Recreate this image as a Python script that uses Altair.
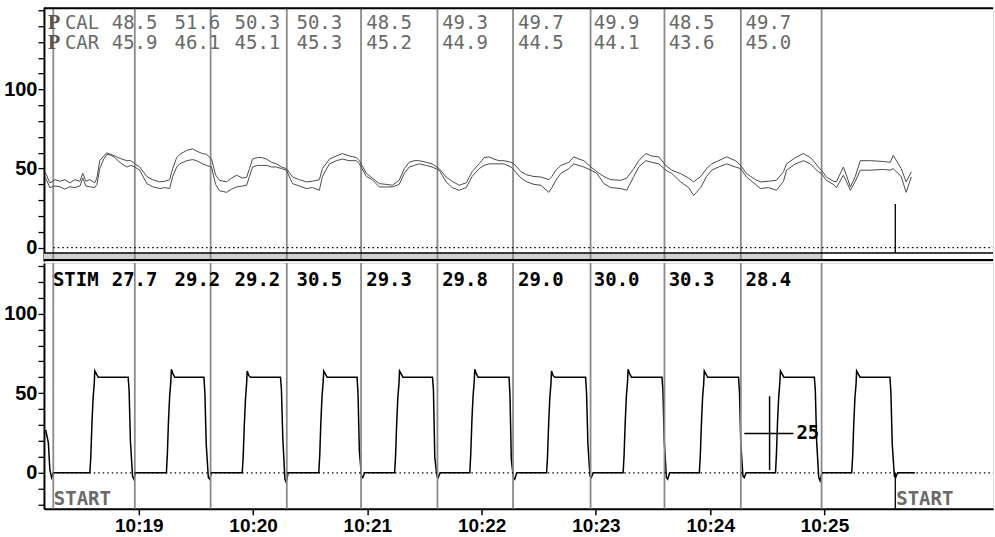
import altair as alt
import pandas as pd

# ---------------- data (time in seconds after 10:18:00) ----------------
pres_t = [10.7, 13.3, 16.0, 18.6, 21.2, 23.8, 26.4, 29.1, 30.6, 32.2,
          34.3, 36.9, 38.0, 39.5, 41.6, 43.2, 45.3, 47.4, 49.0, 51.1,
          53.7, 55.8, 57.9, 60.5, 64.2, 67.3, 71.0, 73.6, 76.2, 77.8,
          79.9, 81.5, 85.1, 88.3, 90.4, 93.5, 95.6, 98.2, 100.3, 102.4,
          106.1, 108.7, 111.3, 114.5, 116.6, 118.1, 119.7, 122.3, 124.4, 127.1,
          129.7, 132.3, 134.9, 137.5, 140.7, 144.3, 148.0, 151.2, 154.8, 156.4,
          160.1, 163.7, 166.9, 170.5, 174.2, 175.8, 179.5, 182.6, 186.3, 189.9,
          193.1, 196.7, 199.4, 202.0, 204.6, 207.2, 210.9, 214.0, 217.7, 221.4,
          224.5, 228.2, 231.9, 235.0, 238.7, 241.3, 243.9, 246.5, 249.1,
          251.8, 255.4, 257.0, 260.7, 263.8, 267.5, 271.1, 275.3, 276.9, 279.0,
          281.6, 285.8, 288.4, 291.1, 293.7, 297.4, 300.5, 304.2, 307.8, 313.1,
          316.2, 319.9, 322.5, 326.2, 329.3, 333.0, 336.7, 339.8, 344.5, 348.7,
          351.3, 355.0, 358.1, 360.8, 364.4, 368.6, 373.3, 376.0, 379.1, 383.8,
          386.4, 390.6, 394.8, 398.5, 400.1, 404.8, 409.0, 412.6, 414.2, 416.8,
          418.4, 421.0, 424.7, 426.3, 429.9, 431.5, 433.6, 436.2, 438.8, 444.1,
          450.9, 454.6, 456.1, 460.3, 462.9, 465.6]

pcal = [48, 41, 43, 42, 43, 41, 43, 42, 47, 42,
        43, 41, 44, 55, 58, 60, 59, 58, 57, 56,
        55, 55, 53, 51, 45, 43, 41.6, 42, 43, 50,
        57, 59, 61.5, 62.5, 61, 59.5, 59, 56, 46, 42.6,
        41.6, 44, 45.8, 44, 44.5, 50, 56, 57, 57, 56,
        54, 53, 51, 50, 44.7, 43, 41.6, 42, 43, 50,
        56, 58, 59.5, 58, 57, 55, 47, 44, 40.5, 40,
        39.5, 42.6, 50, 54, 55, 55, 54, 53, 50, 44.7,
        42, 39.5, 41, 48, 53, 57, 57.4, 56, 55,
        55, 54, 53, 48, 46, 45, 44.7, 43, 45, 49,
        52, 54, 57.4, 56, 55, 51, 48, 45, 43, 42.6,
        44, 50, 55, 59.5, 58, 57.4, 52, 49, 46.8, 44,
        41.6, 45, 50, 53, 55, 57.4, 55, 52, 46.8, 43,
        41.6, 42, 42.6, 48, 53, 57, 59.5, 57, 55, 51,
        49, 44.7, 42, 41.6, 51, 46, 38.4, 45, 55, 55,
        54.5, 54, 58.4, 50, 41.6, 47.9]

pcar = [45, 38, 39, 38.5, 37, 38.5, 38, 39, 44, 39,
        38.5, 38, 40, 50, 56, 59, 58.5, 57, 55, 53,
        51, 52, 51, 49, 40.5, 38.5, 37.4, 38, 37.4, 45,
        51, 53, 55, 55.7, 55, 53, 52, 51, 40, 36,
        35, 37, 38.4, 39, 39.5, 45, 51, 52, 52, 52,
        51, 51, 50, 49, 40.5, 39, 37.4, 38, 36.3, 45,
        53, 55, 56, 55, 55, 53, 45, 43, 38.4, 38.4,
        38.4, 40, 47, 51, 52, 53, 52, 51, 49, 41.6,
        38, 36.3, 38, 45, 50, 52, 53, 53, 53,
        53, 51, 49, 44, 41.6, 40, 39.5, 35, 38, 42.6,
        47, 50, 53, 52, 51, 49, 47, 40.5, 38, 37.4,
        36.3, 45, 51, 55, 54, 53, 49, 47, 41.6, 38,
        33, 38, 45, 49, 51, 53, 51, 50, 44.7, 40,
        37.4, 38, 36.3, 42, 49, 53, 55, 53, 51, 48,
        47, 42.6, 40, 38, 45.8, 42, 36.3, 42, 49, 49,
        49.5, 49, 50, 45, 35, 44.7]

stim_t = [11.1, 12.5, 13.3, 14.2, 15.1,
          34.3, 34.8, 35.4, 36.0, 36.6, 36.9, 37.8, 38.7, 54.4, 54.9, 55.6, 56.7, 57.4, 58.4,
          74.5, 75.0, 75.6, 76.2, 76.8, 77.1, 78.0, 78.9, 94.2, 94.7, 95.4, 96.5, 97.2, 98.2,
          114.3, 114.8, 115.4, 116.0, 116.6, 116.9, 117.8, 118.7, 134.4, 134.9, 135.6, 136.7, 137.4, 138.4,
          154.5, 155.0, 155.6, 156.2, 156.8, 157.1, 158.0, 158.9, 174.6, 175.1, 175.8, 176.9, 177.6, 178.6,
          194.3, 194.8, 195.4, 196.0, 196.6, 196.9, 197.8, 198.7, 214.2, 214.7, 215.4, 216.5, 217.2, 218.2,
          233.8, 234.3, 234.9, 235.5, 236.1, 236.4, 237.3, 238.2, 254.4, 254.9, 255.6, 256.7, 257.4, 258.4,
          274.1, 274.6, 275.2, 275.8, 276.4, 276.7, 277.6, 278.5, 294.6, 295.1, 295.8, 296.9, 297.6, 298.6,
          314.3, 314.8, 315.4, 316.0, 316.6, 316.9, 317.8, 318.7, 334.7, 335.2, 335.9, 337.0, 337.7, 338.7,
          354.3, 354.8, 355.4, 356.0, 356.6, 356.9, 357.8, 358.7, 374.9, 375.4, 376.1, 377.2, 377.9, 378.9,
          394.3, 394.8, 395.4, 396.0, 396.6, 396.9, 397.8, 398.7, 414.7, 415.2, 415.9, 417.0, 417.7, 418.7,
          434.3, 434.8, 435.4, 436.0, 436.6, 436.9, 437.8, 438.7, 454.4, 454.9, 455.6, 456.7, 457.4, 458.4,
          467.5]

stim_v = [27, 19, 2, -3, 0,
          0, 10, 31, 47, 56, 64, 62, 60, 60, 52, 20, -2, -4, 0,
          0, 12, 33, 48, 57, 65, 62, 60, 60, 50, 18, -3, -4, 0,
          0, 10, 30, 46, 56, 64, 61, 60, 60, 52, 22, -4, -6, 0,
          0, 11, 32, 48, 57, 64, 62, 60, 60, 50, 14, -2, -3, 0,
          0, 10, 31, 47, 56, 64, 62, 60, 60, 52, 10, -2, -3, 0,
          0, 12, 33, 48, 57, 65, 62, 60, 60, 48, 8, -3, -4, 0,
          0, 10, 31, 47, 56, 64, 61, 60, 60, 50, 18, -2, -3, 0,
          0, 11, 32, 48, 57, 65, 62, 60, 60, 52, 20, -3, -4, 0,
          0, 10, 31, 47, 56, 64, 62, 60, 60, 50, 18, -2, -3, 0,
          0, 12, 33, 48, 57, 64, 62, 60, 60, 52, 20, -3, -5, 0,
          0, 10, 31, 47, 56, 64, 62, 60, 60, 50, 18, -2, -3, 0,
          0]

markers = [15.1, 57.9, 97.7, 137.7, 176.7, 216.8, 256.5, 297.2, 336.0, 376.1, 418.5]

val_t = [45.8, 78.8, 110.3, 142.8, 179.4, 219.3, 259.1, 298.9, 338.2, 378.6]
cal_vals = ["48.5", "51.6", "50.3", "50.3", "48.5", "49.3", "49.7", "49.9", "48.5", "49.7"]
car_vals = ["45.9", "46.1", "45.1", "45.3", "45.2", "44.9", "44.5", "44.1", "43.6", "45.0"]
stim_vals = ["27.7", "29.2", "29.2", "30.5", "29.3", "29.8", "29.0", "30.0", "30.3", "28.4"]

label_t = [12.3, 21.2, 14.9]          # "P", "CAL"/"CAR", "STIM"
start_t = [15.4, 457.7]
event_t = 457.2
event_top_v = 27.6
cross_t = 391.2
cross_v = [1.7, 48.1]
cross_h_t = [377.9, 403.7]
cross_level = 24.7
cross_label = "25"

tick_seconds = [60, 120, 180, 240, 300, 360, 420]
x_domain = [10.2, 508.5]
top_domain = [-8.4, 151.96]
bot_domain = [-22.6, 131.8]

# ---------------- layout ----------------
W = 950
H_TOP = 254
H_BOT = 246
MONO = "DejaVu Sans Mono"

xs = alt.Scale(domain=x_domain, nice=False, zero=False)
ys_top = alt.Scale(domain=top_domain, nice=False, zero=False)
ys_bot = alt.Scale(domain=bot_domain, nice=False, zero=False)


def yaxis(vals):
    return alt.Axis(values=vals,
                    labelExpr="(datum.value % 50 == 0 && datum.value <= 100) ? datum.label : ''",
                    title=None, grid=False, tickSize=6, tickColor="black", tickWidth=1.3,
                    domainColor="black", domainWidth=2, labelFont="Liberation Sans",
                    labelFontWeight="bold", labelFontSize=20, labelColor="black",
                    labelPadding=1)


ax_top = yaxis(list(range(0, 160, 10)))
ax_bot = yaxis(list(range(-20, 140, 10)))
ax_x = alt.Axis(values=tick_seconds, labelExpr="'10:' + (18 + datum.value / 60)",
                title=None, grid=False, tickSize=6, tickColor="black", tickWidth=1.5,
                domainColor="black", domainWidth=2, labelFont="Liberation Sans",
                labelFontWeight="bold", labelFontSize=19, labelColor="black", labelPadding=2)

XT = alt.X("t:Q", scale=xs, axis=None)
YT = alt.Y("v:Q", scale=ys_top, axis=ax_top)
XB = alt.X("t:Q", scale=xs, axis=ax_x)
YB = alt.Y("v:Q", scale=ys_bot, axis=ax_bot)

pres_df = pd.concat([
    pd.DataFrame({"t": pres_t, "v": pcal, "s": "PCAL"}),
    pd.DataFrame({"t": pres_t, "v": pcar, "s": "PCAR"}),
])
stim_df = pd.DataFrame({"t": stim_t, "v": stim_v})
mark_df = pd.DataFrame({"t": markers})
zero_df = pd.DataFrame({"t": [markers[0]], "v": [0]})
vals_df = pd.DataFrame({"t": val_t, "cal": cal_vals, "car": car_vals, "stim": stim_vals})

# ---------------- top panel ----------------
band = alt.Chart(pd.DataFrame({"t": [x_domain[0]], "t2": [markers[-1]]})).mark_rect(
    color="#d2d2d2").encode(x=XT, x2="t2:Q", y=alt.value(H_TOP - 8), y2=alt.value(H_TOP))
band_l1 = alt.Chart(pd.DataFrame({"a": [0]})).mark_rule(color="black", strokeWidth=1.3).encode(
    x=alt.value(0), x2=alt.value(W), y=alt.value(H_TOP - 8))
band_l2 = alt.Chart(pd.DataFrame({"a": [0]})).mark_rule(color="black", strokeWidth=2).encode(
    x=alt.value(0), x2=alt.value(W), y=alt.value(H_TOP - 1))
top_border = alt.Chart(pd.DataFrame({"a": [0]})).mark_rule(color="black", strokeWidth=2).encode(
    x=alt.value(0), x2=alt.value(W), y=alt.value(1))
mk_top = alt.Chart(mark_df).mark_rule(color="#8a8a8a", strokeWidth=1.8).encode(x=XT)
zero_top = alt.Chart(zero_df).mark_rule(color="black", strokeWidth=1.3, strokeDash=[1.5, 3]).encode(
    x=XT, x2=alt.value(W), y=YT)
pres = alt.Chart(pres_df).mark_line(color="#4a4a4a", strokeWidth=1).encode(x=XT, y=YT, detail="s:N")
event_top = alt.Chart(pd.DataFrame({"t": [event_t], "v": [event_top_v]})).mark_rule(
    color="black", strokeWidth=1.3).encode(x=XT, y=YT, y2=alt.value(H_TOP - 8))

txt_kw = dict(align="left", baseline="alphabetic", font=MONO, fontSize=19, color="#6a6a6a")
cal_txt = alt.Chart(vals_df).mark_text(**txt_kw).encode(x=XT, y=alt.value(22), text="cal:N")
car_txt = alt.Chart(vals_df).mark_text(**txt_kw).encode(x=XT, y=alt.value(42), text="car:N")
lab_df = pd.DataFrame({"t": [label_t[0], label_t[0], label_t[1], label_t[1]],
                       "row": ["a", "b", "a", "b"], "txt": ["P", "P", "CAL", "CAR"]})
p_txt1 = alt.Chart(lab_df[lab_df.txt == "P"].iloc[[0]]).mark_text(
    align="left", baseline="alphabetic", font="Liberation Serif", fontSize=20, fontWeight="bold",
    color="#555555").encode(x=XT, y=alt.value(22), text="txt:N")
p_txt2 = alt.Chart(lab_df[lab_df.txt == "P"].iloc[[1]]).mark_text(
    align="left", baseline="alphabetic", font="Liberation Serif", fontSize=20, fontWeight="bold",
    color="#555555").encode(x=XT, y=alt.value(42), text="txt:N")
cal_lab = alt.Chart(lab_df[lab_df.txt == "CAL"]).mark_text(**txt_kw).encode(
    x=XT, y=alt.value(22), text="txt:N")
car_lab = alt.Chart(lab_df[lab_df.txt == "CAR"]).mark_text(**txt_kw).encode(
    x=XT, y=alt.value(42), text="txt:N")

top = alt.layer(band, mk_top, band_l1, band_l2, top_border, zero_top, pres, event_top,
                cal_txt, car_txt, p_txt1, p_txt2, cal_lab, car_lab).properties(width=W, height=H_TOP)

# ---------------- bottom panel ----------------
stim_line = alt.Chart(stim_df).mark_line(color="black", strokeWidth=1.5).encode(x=XB, y=YB)
mk_bot = alt.Chart(mark_df).mark_rule(color="#8a8a8a", strokeWidth=1.8).encode(x=XB)
zero_bot = alt.Chart(zero_df).mark_rule(color="black", strokeWidth=1.3, strokeDash=[1.5, 3]).encode(
    x=XB, x2=alt.value(W), y=YB)
event_bot = alt.Chart(pd.DataFrame({"t": [event_t], "v": [0]})).mark_rule(
    color="black", strokeWidth=1.3).encode(x=XB, y=YB, y2=alt.value(H_BOT))
cross_v_rule = alt.Chart(pd.DataFrame({"t": [cross_t], "v": [cross_v[0]], "v2": [cross_v[1]]})).mark_rule(
    color="black", strokeWidth=1.5).encode(x=XB, y=YB, y2="v2:Q")
cross_h_rule = alt.Chart(pd.DataFrame({"t": [cross_h_t[0]], "t2": [cross_h_t[1]], "v": [cross_level]})).mark_rule(
    color="black", strokeWidth=1.5).encode(x=XB, x2="t2:Q", y=YB)
cross_txt = alt.Chart(pd.DataFrame({"t": [cross_h_t[1]], "v": [cross_level], "txt": [cross_label]})).mark_text(
    align="left", baseline="middle", dx=3, font=MONO, fontSize=19, fontWeight="bold", color="black").encode(
    x=XB, y=YB, text="txt:N")
stim_txt = alt.Chart(vals_df).mark_text(align="left", baseline="alphabetic", font=MONO, fontSize=19,
                                         fontWeight="bold", color="black").encode(
    x=XB, y=alt.value(23), text="stim:N")
stim_lab = alt.Chart(pd.DataFrame({"t": [label_t[2]], "txt": ["STIM"]})).mark_text(
    align="left", baseline="alphabetic", font=MONO, fontSize=19, fontWeight="bold", color="black").encode(
    x=XB, y=alt.value(23), text="txt:N")
start_txt = alt.Chart(pd.DataFrame({"t": start_t, "txt": ["START", "START"]})).mark_text(
    align="left", baseline="alphabetic", font=MONO, fontSize=19, fontWeight="bold", color="#6a6a6a").encode(
    x=XB, y=alt.value(H_BOT - 4), text="txt:N")

bottom = alt.layer(stim_line, mk_bot, zero_bot, event_bot, cross_v_rule, cross_h_rule, cross_txt,
                   stim_txt, stim_lab, start_txt).properties(width=W, height=H_BOT)

chart = alt.vconcat(top, bottom, spacing=-3).resolve_scale(
    x="independent", y="independent").properties(
    padding={"left": 3, "top": 5, "right": 0, "bottom": 0}
).configure_view(stroke=None).configure(background="white")

chart.save("out.html", embed_options={"renderer": "svg", "actions": False})
